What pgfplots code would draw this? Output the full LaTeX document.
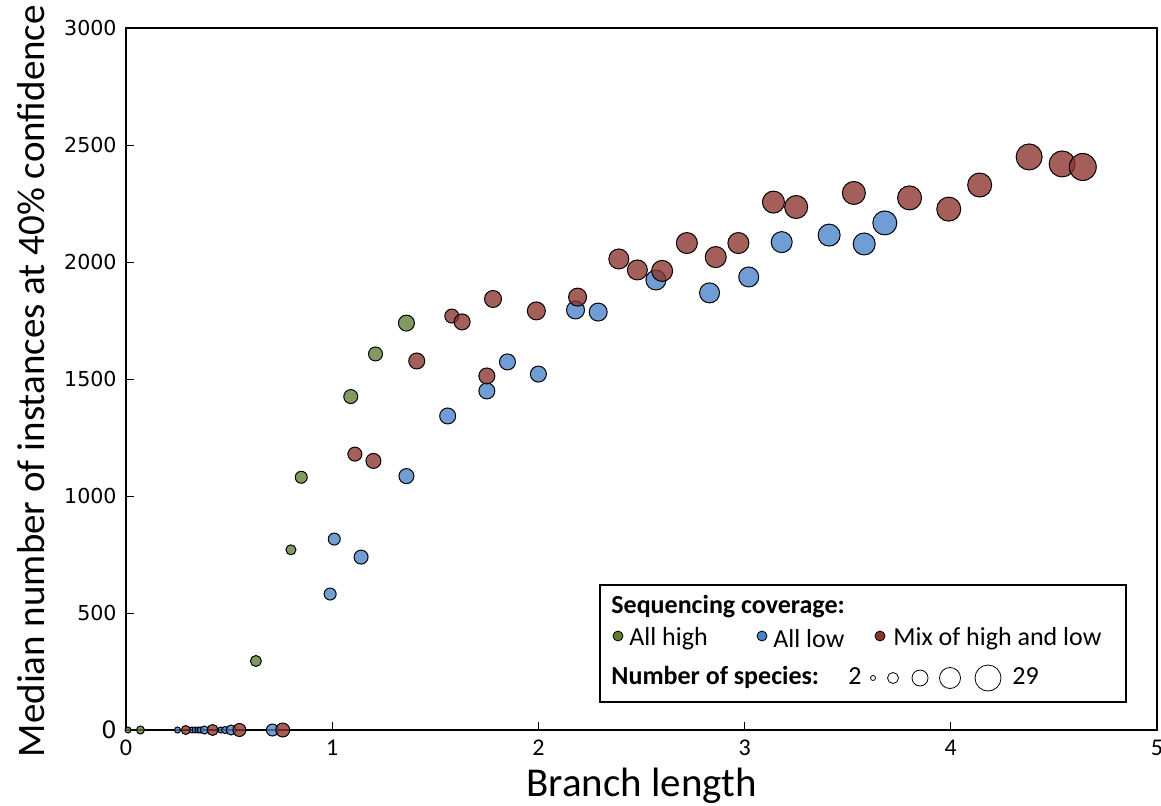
\documentclass[border=0pt]{standalone}
\usepackage{fontspec}
\setmainfont{Carlito}
\newfontfamily\dejavu{DejaVu Sans}
\usepackage{pgfplots}
\pgfplotsset{compat=1.18}
\definecolor{grn}{RGB}{95,125,50}
\definecolor{blu}{RGB}{70,130,200}
\definecolor{rd}{RGB}{140,50,45}
\pgfplotsset{
  bub/.style={only marks, mark=*, scatter,
    scatter/use mapped color={draw=black, fill=#1, fill opacity=0.78, line width=0.5pt},
    visualization depends on={\thisrow{r} \as \perpointmarksize},
    scatter/@pre marker code/.append style={/tikz/mark size=\perpointmarksize pt}},
}
\begin{document}
\begin{tikzpicture}
\path[use as bounding box] (-63pt,-37.5pt) rectangle (517.5pt,365pt);
\begin{axis}[
  at={(0,0)}, anchor=south west,
  scale only axis, width=515.5pt, height=351pt,
  xmin=0, xmax=5, ymin=0, ymax=3000,
  clip=false,
  axis line style={line width=1pt},
  tick align=inside, major tick length=4pt,
  every tick/.style={black, line width=0.5pt},
  xtick pos=bottom, ytick pos=left,
  xtick={0,1,2,3,4,5},
  xticklabels={0,1,2,3,4,5},
  ytick={0,500,1000,1500,2000,2500,3000},
  yticklabels={{\fontsize{12}{12}\selectfont 0},500,1000,1500,2000,2500,3000},
  xticklabel style={font=\fontsize{12}{12}\selectfont, anchor=base, yshift=-12.5pt, inner sep=0pt},
  yticklabel style={font=\dejavu\fontsize{10.3}{11}\selectfont, anchor=east, inner sep=0pt, xshift=-4.5pt},
  xlabel={Branch length},
  ylabel={Median number of instances at 40\% confidence},
  xlabel style={font=\fontsize{20.5}{22}\selectfont, at={(axis description cs:0.5,-0.0954)}, anchor=base, inner sep=0pt},
  ylabel style={font=\fontsize{19.5}{21}\selectfont, at={(axis description cs:-0.0786,0.497)}, anchor=south, inner sep=0pt},
]
\addplot[bub=grn] table {
x y r
0.01 0 1.5
0.07 0 2
0.63 295 2.75
0.80 770 2.5
0.85 1080 3
1.09 1425 3.5
1.21 1607 3.5
1.36 1739 4
};
\addplot[bub=blu] table {
x y r
0.25 0 1.5
0.32 0 1.5
0.335 0 1.5
0.35 0 1.5
0.36 0 1.5
0.38 0 2
0.46 0 1.5
0.48 0 1.75
0.51 0 2.5
0.71 0 3
0.99 581 3
1.01 816 3
1.14 739 3.5
1.36 1085 3.75
1.56 1342 4
1.75 1449 4
1.85 1573 4
2.00 1521 4
2.18 1795 4.5
2.29 1786 4.5
2.57 1923 5
2.83 1868 5
3.02 1936 5
3.18 2085 5.25
3.41 2115 5.5
3.58 2077 5.5
3.68 2167 6
};
\addplot[bub=rd] table {
x y r
0.29 0 2.25
0.42 0 2.75
0.55 0 3.25
0.76 0 3.5
1.11 1179 3.5
1.20 1150 3.75
1.41 1577 4
1.58 1769 3.5
1.63 1744 4
1.75 1513 4
1.78 1842 4.25
1.99 1791 4.5
2.19 1850 4.5
2.39 2013 5
2.48 1966 5
2.60 1962 5.25
2.72 2081 5.25
2.86 2021 5.25
2.97 2081 5.25
3.14 2256 5.5
3.25 2235 5.75
3.53 2295 5.75
3.80 2274 6
3.99 2226 6
4.14 2329 6
4.38 2449 6.5
4.54 2419 6.5
4.64 2406 6.75
};
\end{axis}
% legend
\draw[line width=1pt, fill=white] (237pt,14pt) rectangle (500pt,72.5pt);
\node[anchor=base west, inner sep=0pt, font=\bfseries\fontsize{13}{14}\selectfont] at (242.5pt,58.5pt) {Sequencing coverage:};
\filldraw[fill=grn, draw=black, line width=0.4pt] (246pt,47pt) circle (2.5pt);
\node[anchor=base west, inner sep=0pt, font=\fontsize{13}{14}\selectfont] at (251.5pt,42.5pt) {All high};
\filldraw[fill=blu, draw=black, line width=0.4pt] (318pt,47pt) circle (2.5pt);
\node[anchor=base west, inner sep=0pt, font=\fontsize{13}{14}\selectfont] at (323.5pt,41.5pt) {All low};
\filldraw[fill=rd, draw=black, line width=0.4pt] (377pt,47pt) circle (2.5pt);
\node[anchor=base west, inner sep=0pt, font=\fontsize{13}{14}\selectfont] at (383.5pt,42.5pt) {Mix of high and low};
\node[anchor=base west, inner sep=0pt, font=\bfseries\fontsize{13}{14}\selectfont] at (242.5pt,23pt) {Number of species:};
\node[anchor=base west, inner sep=0pt, font=\fontsize{13}{14}\selectfont] at (361pt,23pt) {2};
\draw[line width=0.4pt] (373.5pt,26pt) circle (1.25pt);
\draw[line width=0.4pt] (383.5pt,26pt) circle (2.75pt);
\draw[line width=0.4pt] (397pt,26pt) circle (4pt);
\draw[line width=0.4pt] (412pt,26pt) circle (5.25pt);
\draw[line width=0.4pt] (431pt,26pt) circle (6.5pt);
\node[anchor=base west, inner sep=0pt, font=\fontsize{13}{14}\selectfont] at (443pt,23pt) {29};
\end{tikzpicture}
\end{document}
